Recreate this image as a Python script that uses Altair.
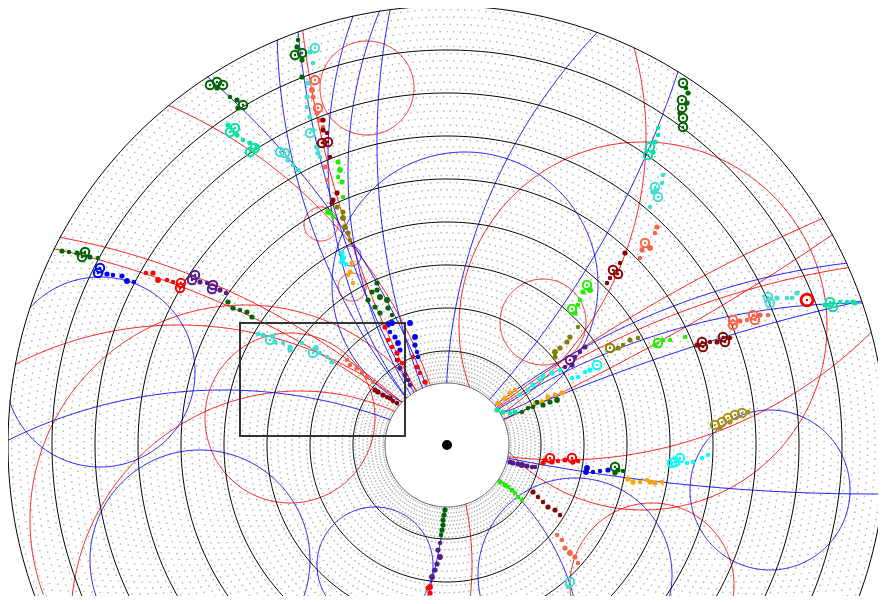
import altair as alt
import pandas as pd

# ---------------- detector geometry (display units, origin = interaction point) ----------------
sl_inner = [62, 94, 137, 180, 223, 266, 309, 352, 395]
sl_outer = [94, 137, 180, 223, 266, 309, 352, 395, 439]
sl_layers = [8, 6, 6, 6, 6, 6, 6, 6, 6]
sl_wires = [160, 160, 192, 224, 256, 288, 320, 352, 384]

ring_radii = [62, 94, 137, 180, 223, 266, 309, 352, 395, 439]
ring_kind = ["inner", "sl", "sl", "sl", "sl", "sl", "sl", "sl", "sl", "sl"]

# ---------------- fitted track helices (circle centre, radius, charge, swept angle) ----------------
# sweep = +/-180: track leaves the interaction point, drawn until it exits; 360: full circle
helix_cx = [-585, -520, -268, -764, -469, 889, 768, 289, 328, 546, 824, 416, 1035, 535, 426, 115,
            -102, -471, -139, -657, 486, -821, -224, -202, -147, 436, -275, 613,
            -80, -126, -95, -96, 96, 323, -347, -157, -72, -247, 128, 205, 196, 18]
helix_cy = [-681, -504, -240, -236, -101, 541, 509, 288, 273, 35, -1698, -537, -1287, -663, 1834, 423,
            -214, -18, 308, 666, -538, 1967, -430, -75, -175, 421, -120, 302,
            357, 221, 158, 189, 123, -45, 73, 27, -120, -115, -130, -140, 119, 160]
helix_r = [898, 724, 360, 800, 480, 1041, 922, 408, 427, 547, 1887, 679, 1651, 851, 1883, 438,
           237, 471, 338, 935, 725, 2131, 485, 215, 229, 606, 300, 683,
           47, 17, 14, 10, 43, 80, 95, 85, 58, 110, 97, 82, 184, 133]
helix_q = ["+", "+", "+", "-", "+", "+", "-", "-", "-", "-", "-", "-", "+", "+", "-", "+",
           "-", "-", "+", "-", "-", "+", "-", "+", "+", "-", "+", "-",
           "+", "+", "+", "-", "+", "-", "-", "+", "-", "-", "-", "+", "+", "-"]
helix_sweep = [180, 180, 180, 180, 180, -180, -180, -180, -180, -180, -180, -180, -180, -180, 180, 180,
               -180, -180, 180, 180, -180, 180, 180, 180, 180, -180, -180, -180,
               360, 360, 360, 360, 360, 360, 360, 360, 360, 360, 360, 360, 360, 360]

# ---------------- hits: (track colour key, x, y, hit class) ----------------
left_chain = [
    ("dg", -385, 194, "m"), ("dg", -378, 193, "s"), ("dg", -370, 192, "m"), ("dg", -362, 193, "r"),
    ("dg", -365, 188, "r"), ("dg", -357, 188, "m"), ("dg", -349, 187, "s"),
    ("bl", -347, 177, "r"), ("bl", -349, 172, "r"), ("bl", -340, 171, "m"), ("bl", -334, 170, "s"),
    ("bl", -325, 169, "m"), ("bl", -320, 164, "l"), ("bl", -313, 163, "s"),
    ("rd", -301, 172, "s"), ("rd", -294, 172, "m"), ("rd", -289, 165, "l"), ("rd", -280, 165, "s"),
    ("rd", -274, 163, "s"), ("rd", -266, 162, "r"), ("rd", -267, 157, "r"),
    ("pu", -252, 170, "r"), ("pu", -255, 165, "r"), ("pu", -247, 163, "m"), ("pu", -240, 162, "s"),
    ("pu", -234, 160, "r"), ("pu", -235, 156, "r"), ("pu", -227, 155, "m"), ("pu", -221, 152, "s"),
    ("dg", -219, 143, "m"), ("dg", -214, 137, "m"), ("dg", -207, 135, "s"), ("dg", -200, 133, "m"),
    ("dg", -195, 128, "m"),
]
rect_chain = [
    ("tq", -189, 111, "s"), ("tq", -184, 110, "m"), ("tq", -177, 105, "r"), ("tq", -174, 109, "m"),
    ("tq", -172, 103, "m"), ("tq", -164, 102, "s"), ("tq", -157, 98, "m"), ("tq", -157, 95, "m"),
    ("tq", -145, 102, "s"), ("tq", -134, 92, "r"), ("tq", -131, 97, "l"), ("tq", -127, 92, "s"),
    ("tq", -120, 88, "s"), ("tq", -115, 83, "m"),
    ("to", -100, 85, "s"), ("to", -97, 80, "s"), ("to", -90, 77, "m"), ("to", -85, 72, "s"),
    ("to", -80, 68, "m"), ("to", -74, 63, "s"),
    ("dr", -72, 55, "m"), ("dr", -69, 53, "m"), ("dr", -64, 50, "m"), ("dr", -60, 48, "s"),
    ("dr", -57, 47, "m"), ("dr", -54, 44, "s"), ("dr", -50, 42, "s"),
]
top_left = [
    ("dg", -237, 360, "r"), ("dg", -230, 363, "r"), ("dg", -224, 360, "r"), ("dg", -230, 357, "m"),
    ("dg", -217, 348, "s"), ("dg", -210, 345, "m"), ("dg", -204, 340, "r"), ("dg", -209, 337, "m"),
    ("sg", -219, 320, "m"), ("sg", -212, 317, "r"), ("sg", -217, 313, "r"), ("sg", -210, 310, "m"),
    ("sg", -204, 305, "s"), ("sg", -197, 302, "m"), ("sg", -192, 297, "r"), ("sg", -197, 293, "r"),
    ("sg", -190, 298, "m"),
    ("tq", -167, 293, "r"), ("tq", -162, 292, "r"), ("tq", -159, 285, "m"), ("tq", -154, 280, "s"),
    ("tq", -149, 275, "m"),
]
top_center = [
    ("dg", -149, 405, "s"), ("dg", -150, 398, "m"), ("dg", -152, 390, "r"), ("dg", -145, 392, "r"),
    ("dg", -145, 385, "m"), ("dg", -145, 368, "m"),
    ("tq", -132, 397, "r"), ("tq", -137, 393, "m"), ("tq", -134, 382, "s"), ("tq", -139, 362, "m"),
    ("tq", -140, 348, "m"), ("tq", -140, 338, "s"), ("tq", -137, 328, "m"), ("tq", -137, 312, "r"),
    ("tq", -134, 315, "m"), ("tq", -130, 298, "l"), ("tq", -129, 292, "m"), ("tq", -127, 288, "s"),
    ("to", -132, 365, "r"), ("to", -135, 355, "l"), ("to", -134, 348, "m"), ("to", -129, 337, "r"),
    ("to", -130, 332, "m"), ("to", -127, 325, "m"), ("to", -124, 318, "s"), ("to", -122, 278, "m"),
    ("to", -120, 265, "s"),
    ("dr", -124, 325, "m"), ("dr", -124, 315, "m"), ("dr", -125, 302, "r"), ("dr", -119, 303, "r"),
    ("dr", -120, 312, "s"), ("dr", -117, 288, "s"), ("dr", -110, 252, "m"), ("dr", -114, 245, "m"),
    ("dr", -115, 242, "m"),
    ("li", -109, 283, "m"), ("li", -107, 275, "l"), ("li", -105, 263, "m"), ("li", -109, 268, "s"),
    ("li", -104, 248, "s"), ("li", -119, 233, "l"), ("li", -117, 232, "m"), ("li", -114, 228, "s"),
    ("ol", -110, 238, "m"), ("ol", -104, 233, "m"), ("ol", -104, 227, "l"), ("ol", -102, 218, "l"),
    ("ol", -99, 212, "m"), ("ol", -97, 205, "s"),
    ("cy", -105, 192, "m"), ("cy", -104, 187, "l"), ("cy", -105, 183, "m"), ("cy", -101, 181, "s"),
    ("or", -95, 182, "m"), ("or", -97, 173, "m"), ("or", -99, 170, "s"), ("or", -94, 162, "s"),
    ("dg", -70, 162, "m"), ("dg", -75, 153, "m"), ("dg", -70, 155, "m"), ("dg", -67, 148, "l"),
    ("dg", -60, 145, "l"), ("dg", -72, 138, "m"), ("dg", -67, 132, "m"), ("dg", -59, 137, "m"),
    ("dg", -55, 130, "s"), ("dg", -79, 145, "m"),
    ("bl", -59, 120, "m"), ("bl", -55, 122, "l"), ("bl", -57, 113, "s"), ("bl", -52, 108, "m"),
    ("bl", -49, 102, "l"), ("bl", -47, 95, "m"), ("bl", -50, 85, "s"), ("bl", -37, 122, "l"),
    ("bl", -32, 108, "l"), ("bl", -32, 100, "m"), ("bl", -30, 93, "s"), ("bl", -29, 88, "s"),
    ("rd", -62, 118, "m"), ("rd", -59, 105, "s"), ("rd", -55, 98, "s"), ("rd", -50, 92, "m"),
    ("rd", -49, 85, "s"), ("rd", -45, 82, "s"), ("rd", -34, 88, "s"), ("rd", -30, 78, "m"),
    ("rd", -27, 72, "s"), ("rd", -22, 63, "m"),
    ("pu", -47, 77, "m"), ("pu", -42, 70, "m"), ("pu", -39, 65, "s"), ("pu", -37, 60, "s"),
]
top_right = [
    ("dg", 236, 362, "r"), ("dg", 235, 345, "r"), ("dg", 235, 337, "r"), ("dg", 236, 327, "r"),
    ("dg", 236, 318, "r"), ("dg", 241, 352, "m"), ("dg", 240, 342, "m"), ("dg", 233, 332, "m"),
    ("dg", 239, 357, "s"),
    ("sg", 203, 298, "r"), ("sg", 201, 290, "r"), ("sg", 206, 293, "m"), ("sg", 208, 303, "m"),
    ("sg", 211, 310, "s"), ("sg", 211, 317, "s"),
    ("tq", 208, 258, "r"), ("tq", 211, 248, "r"), ("tq", 206, 253, "m"), ("tq", 216, 270, "s"),
    ("tq", 215, 262, "s"), ("tq", 203, 238, "s"), ("tq", 209, 255, "m"),
    ("to", 198, 202, "r"), ("to", 203, 197, "l"), ("to", 195, 195, "m"), ("to", 193, 187, "s"),
    ("to", 210, 218, "m"), ("to", 208, 212, "s"),
    ("dr", 178, 192, "m"), ("dr", 173, 182, "s"), ("dr", 166, 175, "r"), ("dr", 171, 171, "r"),
    ("dr", 163, 167, "s"), ("dr", 160, 162, "s"),
    ("li", 140, 160, "r"), ("li", 143, 155, "l"), ("li", 136, 153, "m"), ("li", 133, 145, "s"),
    ("li", 125, 136, "r"), ("li", 128, 132, "m"), ("li", 131, 140, "s"),
    ("ol", 131, 118, "s"), ("ol", 123, 108, "m"), ("ol", 120, 103, "m"), ("ol", 113, 97, "m"),
    ("ol", 108, 93, "l"), ("ol", 108, 88, "m"),
    ("pu", 138, 98, "m"), ("pu", 133, 93, "s"), ("pu", 128, 88, "s"), ("pu", 123, 85, "r"),
    ("pu", 125, 80, "m"), ("pu", 118, 78, "s"),
    ("cy", 113, 75, "s"), ("cy", 105, 72, "m"), ("cy", 96, 69, "m"), ("cy", 93, 65, "s"),
    ("cy", 86, 60, "m"), ("cy", 81, 55, "s"), ("cy", 73, 50, "s"),
    ("or", 63, 52, "m"), ("or", 58, 47, "m"), ("or", 51, 42, "m"), ("or", 68, 55, "s"),
    ("or", 115, 52, "m"), ("or", 108, 50, "s"), ("or", 101, 48, "m"), ("or", 95, 43, "m"),
    ("or", 88, 42, "s"),
    ("ol", 163, 97, "r"), ("ol", 171, 97, "m"), ("ol", 176, 100, "s"), ("ol", 183, 105, "m"),
    ("ol", 191, 107, "s"),
    ("li", 211, 102, "r"), ("li", 208, 100, "m"), ("li", 216, 105, "s"), ("li", 223, 105, "s"),
    ("cy", 150, 80, "r"), ("cy", 143, 75, "m"), ("cy", 138, 73, "s"), ("cy", 131, 68, "s"),
    ("cy", 125, 67, "s"),
    ("dg", 110, 45, "l"), ("dg", 103, 43, "m"), ("dg", 96, 40, "m"), ("dg", 90, 43, "s"),
    ("dg", 86, 38, "s"), ("dg", 81, 37, "s"), ("dg", 75, 33, "s"),
    ("sg", 68, 33, "m"), ("sg", 63, 32, "s"), ("sg", 56, 33, "m"), ("sg", 50, 35, "m"),
]
right_side = [
    ("tq", 321, 148, "r"), ("tq", 323, 142, "r"), ("tq", 330, 147, "m"), ("tq", 340, 147, "s"),
    ("tq", 345, 147, "s"), ("tq", 350, 152, "m"),
    ("sg", 383, 143, "r"), ("sg", 386, 138, "r"), ("sg", 378, 140, "m"), ("sg", 393, 143, "s"),
    ("sg", 400, 143, "s"), ("sg", 406, 143, "m"), ("sg", 408, 142, "m"),
    ("to", 286, 125, "r"), ("to", 286, 120, "r"), ("to", 293, 124, "m"), ("to", 300, 125, "s"),
    ("to", 306, 130, "r"), ("to", 308, 125, "r"), ("to", 313, 130, "m"), ("to", 321, 130, "s"),
    ("dr", 250, 100, "m"), ("dr", 255, 103, "r"), ("dr", 256, 98, "r"), ("dr", 263, 103, "s"),
    ("dr", 270, 103, "m"), ("dr", 276, 108, "r"), ("dr", 278, 103, "r"), ("dr", 283, 107, "s"),
    ("li", 238, 108, "s"),
    ("go", 268, 20, "r"), ("go", 275, 23, "r"), ("go", 281, 27, "r"), ("go", 288, 30, "r"),
    ("go", 295, 32, "r"), ("go", 301, 33, "m"), ("go", 273, 17, "m"), ("go", 283, 23, "m"),
]
lower_right = [
    ("pu", 63, -17, "m"), ("pu", 66, -18, "m"), ("pu", 71, -19, "m"), ("pu", 75, -20, "l"),
    ("pu", 80, -21, "m"), ("pu", 85, -22, "s"), ("pu", 88, -22, "s"),
    ("rd", 96, -18, "m"), ("rd", 98, -15, "m"), ("rd", 103, -13, "r"), ("rd", 105, -17, "m"),
    ("rd", 111, -16, "s"), ("rd", 118, -15, "m"), ("rd", 125, -13, "r"), ("rd", 126, -17, "m"),
    ("rd", 131, -16, "s"),
    ("bl", 140, -23, "l"), ("bl", 139, -27, "l"), ("bl", 146, -27, "s"), ("bl", 153, -26, "s"),
    ("bl", 161, -25, "m"),
    ("dg", 168, -22, "r"), ("dg", 168, -28, "m"), ("dg", 171, -25, "m"), ("dg", 176, -26, "s"),
    ("or", 181, -34, "m"), ("or", 186, -37, "m"), ("or", 193, -37, "s"), ("or", 200, -35, "s"),
    ("or", 203, -37, "m"), ("or", 208, -38, "m"), ("or", 215, -37, "s"),
    ("cy", 225, -18, "r"), ("cy", 228, -17, "r"), ("cy", 233, -13, "r"), ("cy", 240, -18, "s"),
    ("cy", 246, -17, "s"), ("cy", 255, -13, "s"), ("cy", 261, -10, "s"),
    ("li", 53, -37, "m"), ("li", 58, -40, "m"), ("li", 61, -42, "s"), ("li", 65, -45, "m"),
    ("li", 68, -48, "s"), ("li", 71, -52, "s"), ("li", 75, -55, "s"),
    ("dr", 86, -47, "m"), ("dr", 91, -52, "s"), ("dr", 96, -57, "s"), ("dr", 101, -62, "m"),
    ("dr", 108, -65, "m"), ("dr", 113, -70, "s"),
    ("to", 110, -90, "s"), ("to", 115, -95, "s"), ("to", 118, -103, "m"), ("to", 123, -108, "l"),
    ("to", 128, -112, "m"), ("to", 131, -118, "s"),
    ("tq", 123, -137, "r"), ("tq", 121, -142, "s"), ("tq", 125, -152, "s"),
]
bottom = [
    ("dg", -2, -65, "m"), ("dg", -3, -70, "m"), ("dg", -4, -75, "m"), ("dg", -4, -80, "m"),
    ("dg", -5, -85, "m"), ("dg", -6, -90, "s"),
    ("pu", -7, -98, "s"), ("pu", -9, -105, "m"), ("pu", -7, -112, "l"), ("pu", -10, -119, "m"),
    ("pu", -12, -125, "m"), ("pu", -15, -132, "l"),
    ("rd", -17, -142, "l"), ("rd", -19, -143, "m"), ("rd", -17, -148, "m"), ("rd", -20, -155, "s"),
]
seed_hit = [("rd", 360, 145, "R")]

# zoom window drawn on the display
zoom_box = {"x1": [-207], "x2": [-42], "y1": [9], "y2": [122]}

track_keys = ["dg", "bl", "rd", "pu", "tq", "sg", "to", "dr", "li", "ol", "cy", "or", "go"]
track_cols = ["#006400", "#0000ff", "#ff0000", "#551a8b", "#40e0d0", "#00e6a0", "#ff6347",
              "#8b0000", "#22ee00", "#808000", "#00ffff", "#ffa500", "#a8901a"]

# ---------------- chart ----------------
xs = alt.Scale(domain=[-439, 431], nice=False, zero=False)
ys = alt.Scale(domain=[-151, 437], nice=False, zero=False)


def X(f="x"):
    return alt.X(f"{f}:Q", scale=xs, axis=None)


def Y(f="y"):
    return alt.Y(f"{f}:Q", scale=ys, axis=None)


sl_df = pd.DataFrame({"r_in": sl_inner, "r_out": sl_outer, "nl": sl_layers, "nw": sl_wires})
wires = (
    alt.Chart(sl_df)
    .transform_calculate(layer="sequence(0, datum.nl)")
    .transform_flatten(["layer"])
    .transform_calculate(wire="sequence(0, datum.nw)")
    .transform_flatten(["wire"])
    .transform_calculate(
        rr="datum.r_in + (datum.layer + 0.5) * (datum.r_out - datum.r_in) / datum.nl",
        ph="2 * PI * (datum.wire + (datum.layer % 2) * 0.5) / datum.nw",
    )
    .transform_calculate(x="datum.rr * cos(datum.ph)", y="datum.rr * sin(datum.ph)")
    .transform_filter("datum.y > -156")
    .mark_square(size=2, color="#a8a8a8", opacity=0.9, clip=True)
    .encode(x=X(), y=Y())
)

hx_df = pd.DataFrame({"id": list(range(len(helix_r))), "cx": helix_cx, "cy": helix_cy,
                      "r": helix_r, "q": helix_q, "sweep": helix_sweep})


def helix_layer(q, col):
    return (
        alt.Chart(hx_df)
        .transform_filter(f"datum.q == '{q}'")
        .transform_calculate(
            t0="datum.sweep == 360 ? 0 : atan2(-datum.cy, -datum.cx)",
            k="sequence(0, 361, 1)",
        )
        .transform_flatten(["k"])
        .transform_calculate(a="datum.t0 + datum.sweep * datum.k / 360 * PI / 180")
        .transform_calculate(x="datum.cx + datum.r * cos(datum.a)",
                             y="datum.cy + datum.r * sin(datum.a)")
        .mark_line(strokeWidth=1, color=col, opacity=0.85, clip=True)
        .encode(x=X(), y=Y(), detail="id:N", order="k:Q")
    )


centre_df = pd.DataFrame({"x": [0], "y": [0]})
outer_mask = alt.Chart(centre_df).mark_arc(
    innerRadius=439.5, outerRadius=1400, theta=0, theta2=6.2832, color="white", clip=True
).encode(x=X(), y=Y())
inner_mask = alt.Chart(centre_df).mark_arc(
    innerRadius=0, outerRadius=62, theta=0, theta2=6.2832, color="white", clip=True
).encode(x=X(), y=Y())

ring_df = pd.DataFrame({"ring": list(range(len(ring_radii))), "r": ring_radii, "k": ring_kind})


def ring_layer(k, col):
    return (
        alt.Chart(ring_df)
        .transform_filter(f"datum.k == '{k}'")
        .transform_calculate(t="sequence(0, 361, 1)")
        .transform_flatten(["t"])
        .transform_calculate(x="datum.r * cos(datum.t * PI / 180)",
                             y="datum.r * sin(datum.t * PI / 180)")
        .mark_line(strokeWidth=1, color=col, clip=True)
        .encode(x=X(), y=Y(), detail="ring:N", order="t:Q")
    )


box = alt.Chart(pd.DataFrame(zoom_box)).mark_rect(
    fillOpacity=0, stroke="#333333", strokeWidth=2, clip=True
).encode(x=X("x1"), x2="x2:Q", y=Y("y1"), y2="y2:Q")

rows = left_chain + rect_chain + top_left + top_center + top_right + right_side + lower_right + bottom + seed_hit
hits_df = pd.DataFrame(rows, columns=["trk", "x", "y", "kind"])
cscale = alt.Scale(domain=track_keys, range=track_cols)
col_enc = alt.Color("trk:N", scale=cscale, legend=None)

filled = (
    alt.Chart(hits_df)
    .transform_filter("datum.kind == 's' || datum.kind == 'm' || datum.kind == 'l'")
    .mark_circle(opacity=1, clip=True)
    .encode(x=X(), y=Y(), color=col_enc,
            size=alt.Size("kind:O", scale=alt.Scale(domain=["s", "m", "l"], range=[20, 34, 56]),
                          legend=None))
)
ringed = (
    alt.Chart(hits_df)
    .transform_filter("datum.kind == 'r'")
    .mark_point(shape="circle", filled=False, size=72, strokeWidth=2, opacity=1, clip=True)
    .encode(x=X(), y=Y(), color=col_enc)
)
ringed_c = (
    alt.Chart(hits_df)
    .transform_filter("datum.kind == 'r' || datum.kind == 'R'")
    .mark_circle(size=6, opacity=1, clip=True)
    .encode(x=X(), y=Y(), color=col_enc)
)
seed = (
    alt.Chart(hits_df)
    .transform_filter("datum.kind == 'R'")
    .mark_point(shape="circle", filled=False, size=140, strokeWidth=2.8, opacity=1, clip=True)
    .encode(x=X(), y=Y(), color=col_enc)
)
vertex = alt.Chart(centre_df).mark_circle(size=100, color="black", opacity=1).encode(x=X(), y=Y())

chart = alt.layer(
    wires,
    helix_layer("+", "#ff0000"),
    helix_layer("-", "#0000ff"),
    outer_mask,
    inner_mask,
    ring_layer("inner", "#555555"),
    ring_layer("sl", "#000000"),
    box,
    filled,
    ringed,
    ringed_c,
    seed,
    vertex,
).properties(
    width=870, height=588, padding=0, autosize=alt.AutoSizeParams(type="none")
).configure_view(strokeWidth=0)

chart.save("out.html", embed_options={"renderer": "svg", "actions": False})
